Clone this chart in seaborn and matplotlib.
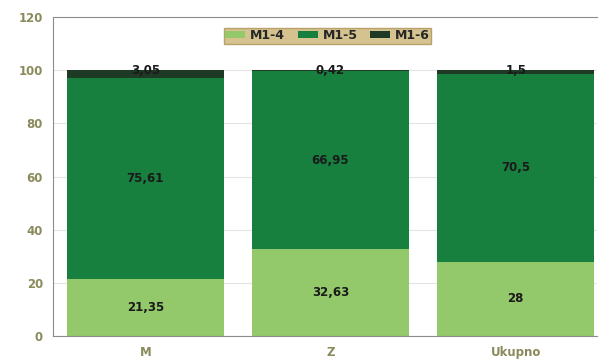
import pandas as pd
import matplotlib
matplotlib.use('Agg')
import matplotlib.pyplot as plt
import seaborn as sns

# chart data
groups = ['M', 'Z', 'Ukupno']
m1_4 = [21.35, 32.63, 28]
m1_5 = [75.61, 66.95, 70.5]
m1_6 = [3.04, 0.42, 1.5]
lab_4 = ['21,35', '32,63', '28']
lab_5 = ['75,61', '66,95', '70,5']
lab_6 = ['3,05', '0,42', '1,5']

colors = {'M1-4': '#93c86b', 'M1-5': '#17803f', 'M1-6': '#1f3a24'}
tick_col = '#8a8a5c'

sns.set_style('white')
plt.rcParams['font.family'] = ['DejaVu Sans']

fig = plt.figure(figsize=(5.99, 3.61), dpi=100)
ax = fig.add_axes([0.088, 0.069, 0.909, 0.884])

df = pd.DataFrame({'grp': groups, 'M1-4': m1_4, 'M1-5': m1_5, 'M1-6': m1_6})
df['b5'] = df['M1-4']
df['b6'] = df['M1-4'] + df['M1-5']

w = 0.85
sns.barplot(data=df, x='grp', y='M1-4', color=colors['M1-4'], width=w,
            ax=ax, label='M1-4', saturation=1, edgecolor='none')
sns.barplot(data=df, x='grp', y='M1-5', bottom=df['b5'], color=colors['M1-5'],
            width=w, ax=ax, label='M1-5', saturation=1, edgecolor='none')
sns.barplot(data=df, x='grp', y='M1-6', bottom=df['b6'], color=colors['M1-6'],
            width=w, ax=ax, label='M1-6', saturation=1, edgecolor='none')

for i in range(len(groups)):
    ax.text(i, m1_4[i] / 2, lab_4[i], ha='center', va='center',
            fontsize=8.5, fontweight='bold', color='#1a1a1a')
    ax.text(i, m1_4[i] + m1_5[i] / 2, lab_5[i], ha='center', va='center',
            fontsize=8.5, fontweight='bold', color='#1a1a1a')
    ax.text(i, 100, lab_6[i], ha='center', va='center',
            fontsize=8.5, fontweight='bold', color='#1a1a1a')

ax.set_ylim(0, 120)
ax.set_xlim(-0.5, 2.44)
ax.set_yticks(range(0, 121, 20))
ax.yaxis.grid(True, color='#e4e4e4', lw=0.8)
ax.set_axisbelow(True)
ax.set_xlabel('')
ax.set_ylabel('')
ax.tick_params(axis='both', length=0, labelsize=8.5, labelcolor=tick_col, pad=7)
for t in ax.get_xticklabels() + ax.get_yticklabels():
    t.set_fontweight('bold')

for s in ['left', 'top', 'bottom']:
    ax.spines[s].set_color('#8c8c8c')
    ax.spines[s].set_linewidth(0.8)
ax.spines['right'].set_visible(False)

leg = ax.legend(loc='upper center', bbox_to_anchor=(0.505, 0.985), ncol=3,
                frameon=True, handlelength=1.6, handleheight=0.5,
                columnspacing=1.0, handletextpad=0.4, borderpad=0.1,
                fancybox=False, prop={'weight': 'bold', 'size': 9})
leg.get_frame().set_facecolor('#d4c28f')
leg.get_frame().set_edgecolor('#b8a26a')
leg.get_frame().set_alpha(1)

fig.savefig('out.png', dpi=100)
